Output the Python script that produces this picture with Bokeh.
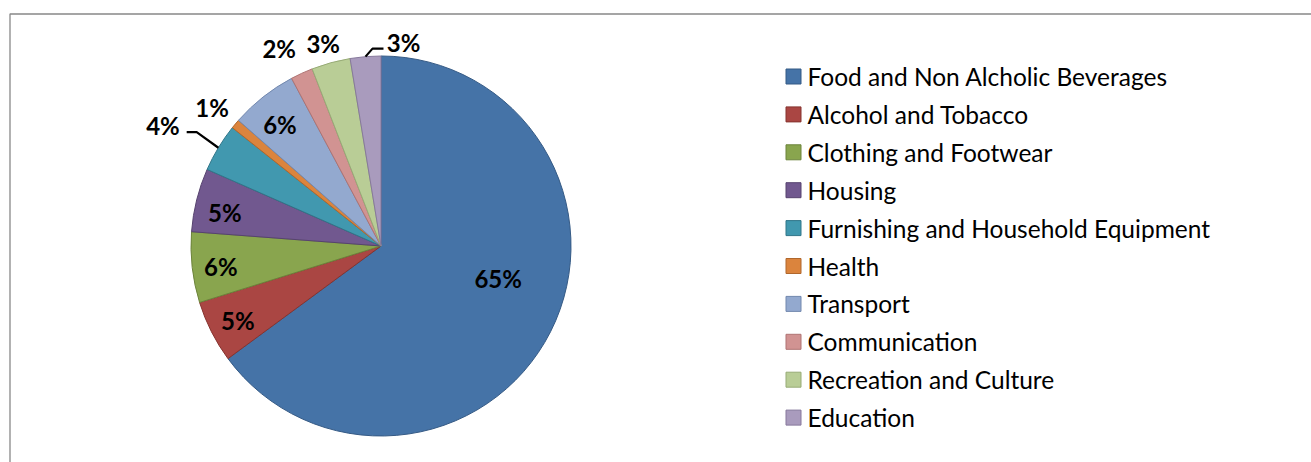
import numpy as np
import pandas as pd
from bokeh.plotting import figure
from bokeh.models import Range1d, ColumnDataSource
from bokeh.core.properties import value
from bokeh.embed import file_html
from bokeh.resources import INLINE

# ---------------- data ----------------
categories = ["Food and Non Alcholic Beverages", "Alcohol and Tobacco", "Clothing and Footwear",
              "Housing", "Furnishing and Household Equipment", "Health", "Transport",
              "Communication", "Recreation and Culture", "Education"]
shares = [64.9, 5.3, 6.0, 5.4, 4.1, 0.8, 5.7, 1.9, 3.3, 2.6]
colors = ["#4573A7", "#AA4643", "#89A54E", "#71588F", "#4198AF",
          "#DB843D", "#93A9CF", "#D19392", "#B9CD96", "#A99BBD"]
edge_colors = ["#355A85", "#86332F", "#6C833B", "#57436F", "#307689",
               "#B0672C", "#7288AE", "#AF7372", "#97AB76", "#87799C"]

# ---------------- layout (pixels) ----------------
W, H = 1311, 462
def px(X):  # image x -> data x
    return X
def py(Y):  # image y -> data y
    return H - Y

cx, cy, R = px(380.5), py(245.5), 190
label_k = [0.64, 0.85, 0.85, 0.84, 1.31, 1.15, 0.83, 1.17, 1.11, 1.08]
label_shift = [-11.3, -0.8, -0.8, -2.0, -2.3, -0.6, -1.5, -2.6, -0.6, 11.0]
leader_idx = [4, 9]
leader_offsets = {4: [(-21.7, 15.7), (-31.7, 15.7)], 9: [(7, 8), (18, 8)]}

df = pd.DataFrame({"cat": categories, "share": shares, "color": colors, "edge": edge_colors})
frac = df["share"] / df["share"].sum()
cum_end = frac.cumsum()
cum_start = cum_end - frac
df["start"] = np.pi / 2 - 2 * np.pi * cum_start
df["end"] = np.pi / 2 - 2 * np.pi * cum_end
mid_deg = (cum_start + frac / 2) * 360.0
ang = np.radians(mid_deg + np.array(label_shift))
df["lx"] = cx + np.array(label_k) * R * np.sin(ang)
df["ly"] = cy + np.array(label_k) * R * np.cos(ang)
df["label"] = [f"{int(round(s))}%" for s in df["share"]]

p = figure(width=W, height=H, x_range=Range1d(0, W), y_range=Range1d(0, H),
           output_backend="svg", toolbar_location=None, min_border=0)
p.axis.visible = False
p.grid.visible = False
p.outline_line_color = None
p.background_fill_color = "white"

# frame
p.line([px(9.5), px(9.5), W], [0, py(13.5), py(13.5)], line_color="#888888", line_width=1.3)

src = ColumnDataSource(df)
p.wedge(x=cx, y=cy, radius=R, start_angle="start", end_angle="end", direction="clock",
        fill_color="color", line_color="edge", line_width=1, source=src)

# leader lines
xs, ys = [], []
for i in leader_idx:
    a = np.radians(mid_deg.iloc[i])
    ex, ey = cx + R * np.sin(a), cy + R * np.cos(a)
    pts_x = [ex] + [ex + dx for dx, dy in leader_offsets[i]]
    pts_y = [ey] + [ey + dy for dx, dy in leader_offsets[i]]
    xs.append(pts_x)
    ys.append(pts_y)
p.multi_line(xs, ys, line_color="black", line_width=2.2)

p.text(x="lx", y="ly", text="label", source=src, text_align="center", text_baseline="middle",
       text_font=value("Lato"), text_font_style="bold", text_font_size="24px", text_color="black")

# legend
leg_x = px(793)
leg_y0 = py(76)
step = 37.9
df["gy"] = leg_y0 - step * np.arange(len(df))
df["gx"] = leg_x
df["tx"] = px(807)
lsrc = ColumnDataSource(df)
p.rect(x="gx", y="gy", width=15, height=15, fill_color="color", line_color="edge",
       line_width=1, source=lsrc)
p.text(x="tx", y="gy", text="cat", source=lsrc, text_align="left", text_baseline="middle",
       text_font=value("Lato"), text_font_size="24.5px", text_color="black")

open("out.html", "w").write(file_html(p, INLINE))
